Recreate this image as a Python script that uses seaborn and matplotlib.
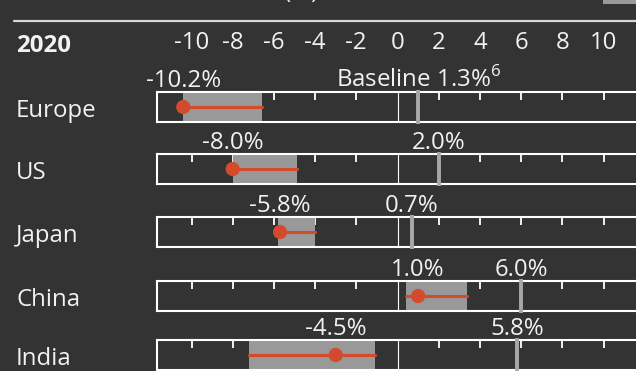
import matplotlib.pyplot as plt
import seaborn as sns

# values (growth forecasts, %)
regions = ['Europe', 'US', 'Japan', 'China', 'India']
range_low = [-10.4, -8.0, -5.8, 0.4, -7.2]
range_high = [-6.6, -4.9, -4.0, 3.35, -1.1]
point = [-10.4, -8.0, -5.7, 1.0, -3.0]
baseline = [1.0, 2.0, 0.7, 6.0, 5.8]
point_labels = ['-10.2%', '-8.0%', '-5.8%', '1.0%', '-4.5%']
baseline_labels = ['Baseline 1.3%$^{\\mathrm{6}}$', '2.0%', '0.7%', '6.0%', '5.8%']
axis_ticks = [-10, -8, -6, -4, -2, 0, 2, 4, 6, 8, 10]
year = '2020'

BG = '#333333'
RED = '#d14b2c'
BAND = '#999999'
BASE = '#a8a8a8'
TXT = '#f2f2f2'
FS = 17.3

sns.set_theme(style='dark')
plt.rcParams['font.family'] = ['Open Sans', 'DejaVu Sans']
plt.rcParams['mathtext.fontset'] = 'custom'
plt.rcParams['mathtext.rm'] = 'Open Sans'

W, H = 636, 371
fig = plt.figure(figsize=(W / 100, H / 100), dpi=100, facecolor=BG)


def px_axes(left, top, right, bottom):
    return fig.add_axes([left / W, 1 - bottom / H, (right - left) / W, (bottom - top) / H])


# horizontal mapping: 0 at x=397.5 px, 20.6 px per unit
X_L, X_R = 157, 660
xlim = ((X_L - 397.5) / 20.6, (X_R - 397.5) / 20.6)

# partial header bits cut off at the top of the crop
fig.text(301 / W, 1 + 2 / H, '(%)', ha='center', va='baseline', color=TXT, fontsize=FS)
fig.patches.append(plt.Rectangle((603 / W, 1 - 4 / H), 40 / W, 4 / H,
                                 transform=fig.transFigure, color=BAND, lw=0))
fig.add_artist(plt.Line2D([14 / W, 1], [1 - 20.5 / H] * 2, color='#d6d6d6', lw=1.6))

# header row with the axis scale
hdr = px_axes(X_L, 30, X_R, 56)
hdr.set_xlim(xlim)
hdr.set_ylim(0, 1)
hdr.axis('off')
for t in axis_ticks:
    hdr.text(t, 0.5, str(t), ha='center', va='center', color=TXT, fontsize=FS)
fig.text(16 / W, 1 - 52 / H, year, ha='left', va='baseline', color=TXT,
         fontsize=FS, fontweight='bold')

box_tops = [92, 154, 217, 281, 340]
box_h = 30

for i, name in enumerate(regions):
    top = box_tops[i]
    ax = px_axes(X_L, top, X_R, top + box_h)
    ax.set_facecolor(BG)
    ax.grid(False)
    ax.set_xlim(xlim)
    ax.set_ylim(0, 1)
    for s in ['left', 'top', 'bottom']:
        ax.spines[s].set_color('white')
        ax.spines[s].set_linewidth(1.5)
    ax.spines['right'].set_visible(False)

    ax.axvspan(range_low[i], range_high[i], color=BAND, lw=0, zorder=1)
    ax.axvline(0, color='white', lw=0.8, zorder=2)
    ax.plot([baseline[i]] * 2, [-0.06, 1.06], color=BASE, lw=2.8,
            clip_on=False, solid_capstyle='butt', zorder=3)
    sns.lineplot(x=[range_low[i], range_high[i]], y=[0.5, 0.5], ax=ax,
                 color=RED, lw=2.2, zorder=4)
    sns.scatterplot(x=[point[i]], y=[0.5], ax=ax, s=105, color=RED,
                    edgecolor='none', zorder=5, clip_on=False)

    ax.set_xticks([t for t in axis_ticks if t != 0])
    ax.set_yticks([])
    ax.tick_params(axis='x', direction='in', top=True, bottom=False, length=5.5,
                   width=1.3, color='white', labeltop=False, labelbottom=False)
    ax.set_xlabel('')
    ax.set_ylabel('')

    for xv, lab in [(point[i], point_labels[i]), (baseline[i], baseline_labels[i])]:
        ax.annotate(lab, xy=(xv, 1), xycoords=('data', 'axes fraction'),
                    xytext=(0, 3.6), textcoords='offset points', ha='center',
                    va='baseline', color=TXT, fontsize=FS)

    fig.text(16 / W, 1 - (top + box_h / 2 + 10) / H, name, ha='left',
             va='baseline', color=TXT, fontsize=FS)

fig.savefig('out.png', dpi=100, facecolor=BG)
